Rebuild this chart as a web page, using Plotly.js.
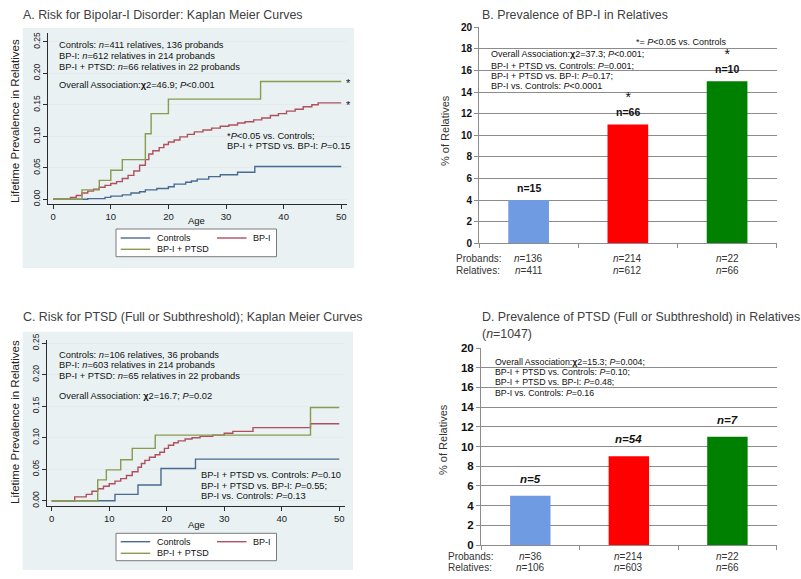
<!DOCTYPE html>
<html><head><meta charset="utf-8">
<script src="https://cdn.plot.ly/plotly-3.0.1.min.js"></script>
<style>body{margin:0;padding:0;background:#fff}#chart{width:801px;height:579px}</style>
</head><body><div id="chart"></div>
<script>
// ---------- Panel A: Kaplan-Meier, risk for BP-I ----------
const A_ctrlAge = [0, 6, 9, 10, 12, 13.5, 15, 16, 18, 20, 21, 23, 24, 25, 27, 29, 32, 35, 50];
const A_ctrlVal = [0, 0.001, 0.003, 0.005, 0.007, 0.010, 0.012, 0.015, 0.017, 0.020, 0.024, 0.027, 0.029, 0.032, 0.036, 0.039, 0.043, 0.052, 0.052];
const A_bpAge = [0, 3, 4, 5, 6, 7, 8, 9, 10, 11, 12, 13, 14, 15, 16, 16.6, 17.3, 18.4, 19.2, 20, 21, 22, 23.3, 24.5, 26, 27.5, 29, 30.5, 32, 33.3, 34.8, 36.2, 37.7, 39.1, 40.5, 42, 43.4, 44.9, 46, 50];
const A_bpVal = [0, 0.003, 0.006, 0.010, 0.013, 0.016, 0.019, 0.022, 0.025, 0.028, 0.033, 0.038, 0.045, 0.054, 0.063, 0.072, 0.077, 0.082, 0.087, 0.091, 0.094, 0.099, 0.103, 0.107, 0.110, 0.113, 0.116, 0.118, 0.121, 0.123, 0.126, 0.129, 0.133, 0.136, 0.140, 0.143, 0.147, 0.150, 0.153, 0.153];
const A_ptAge = [0, 5, 8, 10, 12, 16, 17, 20, 36, 50];
const A_ptVal = [0, 0.015, 0.030, 0.046, 0.063, 0.104, 0.136, 0.159, 0.187, 0.187];

// ---------- Panel C: Kaplan-Meier, risk for PTSD ----------
const C_ctrlAge = [0, 11, 15, 19, 25, 50];
const C_ctrlVal = [0, 0.010, 0.025, 0.051, 0.066, 0.066];
const C_bpAge = [0, 4, 6, 7, 8, 9, 10, 11, 12, 13, 14, 15, 15.6, 16.2, 17, 18, 18.8, 19.6, 20.3, 21.2, 22, 23.2, 24.4, 25.8, 28, 30, 31.5, 35, 45, 50];
const C_bpVal = [0, 0.006, 0.010, 0.015, 0.019, 0.023, 0.027, 0.031, 0.035, 0.040, 0.046, 0.053, 0.059, 0.064, 0.069, 0.073, 0.077, 0.083, 0.088, 0.092, 0.095, 0.098, 0.100, 0.102, 0.104, 0.107, 0.110, 0.116, 0.122, 0.122];
const C_ptAge = [0, 8, 9.5, 12, 14, 18, 45, 50];
const C_ptVal = [0, 0.033, 0.049, 0.065, 0.083, 0.104, 0.148, 0.148];

const kmAgeTicks = [0, 10, 20, 30, 40, 50];
const kmValTicks = [0, 0.05, 0.10, 0.15, 0.20, 0.25];
const kmNames = ["Controls", "BP-I", "BP-I + PTSD"];

// ---------- Panels B and D: bar charts ----------
const groups = ["Controls", "BP-I", "BP-I + PTSD"];
const B_pct = [4, 11, 15];
const B_cases = ["15", "66", "10"];
const B_star = ["", "*", "*"];
const B_probands = ["136", "214", "22"];
const B_relatives = ["411", "612", "66"];
const D_pct = [5, 9, 11];
const D_cases = ["5", "54", "7"];
const D_probands = ["36", "214", "22"];
const D_relatives = ["106", "603", "66"];
const barTicks = [0, 2, 4, 6, 8, 10, 12, 14, 16, 18, 20];

// ---------- Text ----------
const A_info = ["Controls: <i>n</i>=411 relatives, 136 probands", "BP-I: <i>n</i>=612 relatives in 214 probands", "BP-I + PTSD: <i>n</i>=66 relatives in 22 probands"];
const A_overall = "Overall Association:<b>χ</b>2=46.9; <i>P</i>&lt;0.001";
const A_notes = ["*<i>P</i>&lt;0.05 vs. Controls;", "BP-I + PTSD vs. BP-I: <i>P</i>=0.15"];
const C_info = ["Controls: <i>n</i>=106 relatives, 36 probands", "BP-I: <i>n</i>=603 relatives in 214 probands", "BP-I + PTSD: <i>n</i>=65 relatives in 22 probands"];
const C_overall = "Overall Association: <b>χ</b>2=16.7; <i>P</i>=0.02";
const C_notes = ["BP-I + PTSD vs. Controls: <i>P</i>=0.10", "BP-I + PTSD vs. BP-I: <i>P</i>=0.55;", "BP-I vs. Controls: <i>P</i>=0.13"];
const B_stats = ["Overall Association:<b>χ</b>2=37.3; <i>P</i>&lt;0.001;", "BP-I + PTSD vs. Controls: <i>P</i>=0.001;", "BP-I + PTSD vs. BP-I: <i>P</i>=0.17;", "BP-I vs. Controls: <i>P</i>&lt;0.0001"];
const B_note = "*= <i>P</i>&lt;0.05 vs. Controls";
const D_stats = ["Overall Association:<b>χ</b>2=15.3; <i>P</i>=0.004;", "BP-I + PTSD vs. Controls: <i>P</i>=0.10;", "BP-I + PTSD vs. BP-I: <i>P</i>=0.48;", "BP-I vs. Controls: <i>P</i>=0.16"];

const W = 801, H = 579;
const px = v => v / W, py = v => 1 - v / H;
const FF = "Liberation Sans, Arial, sans-serif";
const kmColors = ["#4b6a92", "#b0505e", "#8a9a4e"];
const barColors = ["#6f9be2", "#ff0000", "#008000"];

const traces = [];
function km(ages, vals, i, xa, ya) {
  traces.push({type: "scatter", mode: "lines", x: ages, y: vals, xaxis: xa, yaxis: ya, name: kmNames[i],
    line: {shape: "hv", color: kmColors[i], width: 1.4}, showlegend: false, hoverinfo: "skip"});
}
km(A_ctrlAge, A_ctrlVal, 0, "x", "y");
km(A_bpAge, A_bpVal, 1, "x", "y");
km(A_ptAge, A_ptVal, 2, "x", "y");
km(C_ctrlAge, C_ctrlVal, 0, "x3", "y3");
km(C_bpAge, C_bpVal, 1, "x3", "y3");
km(C_ptAge, C_ptVal, 2, "x3", "y3");
traces.push({type: "bar", x: groups, y: B_pct, xaxis: "x2", yaxis: "y2", marker: {color: barColors}, showlegend: false, hoverinfo: "skip"});
traces.push({type: "bar", x: groups, y: D_pct, xaxis: "x4", yaxis: "y4", marker: {color: barColors}, showlegend: false, hoverinfo: "skip"});

const ann = [];
function T(text, x, y, size, o) {
  o = o || {};
  ann.push(Object.assign({text: text, x: px(x), y: py(y), xref: "paper", yref: "paper", xanchor: "left", yanchor: "middle",
    showarrow: false, font: {family: FF, size: size, color: o.color || "#111"}}, o.extra || {}));
}
// titles
T("A. Risk for Bipolar-I Disorder: Kaplan Meier Curves", 21, 15, 12.4, {color: "#404040"});
T("C. Risk for PTSD (Full or Subthreshold); Kaplan Meier Curves", 21, 317, 12.4, {color: "#404040"});
T("B. Prevalence of BP-I in Relatives", 480, 15, 12.4, {color: "#404040"});
T("D. Prevalence of PTSD (Full or Subthreshold) in Relatives", 480, 317, 12.4, {color: "#404040"});
T("(<i>n</i>=1047)", 480, 333.5, 12.4, {color: "#404040"});
// y titles
T("Lifetime Prevalence in Relatives", 15, 121, 11.5, {color: "#222", extra: {textangle: -90, xanchor: "center"}});
T("Lifetime Prevalence in Relatives", 15, 422, 11.5, {color: "#222", extra: {textangle: -90, xanchor: "center"}});
T("% of Relatives", 445, 131, 11, {color: "#333", extra: {textangle: -90, xanchor: "center"}});
T("% of Relatives", 443, 440, 11, {color: "#333", extra: {textangle: -90, xanchor: "center"}});
T("Age", 196, 221, 9.5, {extra: {xanchor: "center"}});
T("Age", 196, 524.5, 9.5, {extra: {xanchor: "center"}});
// KM texts
[45, 55.5, 66.5].forEach((y, i) => T(A_info[i], 57, y, 9.3));
T(A_overall, 57, 85, 9.3);
T(A_notes[0], 225, 135.7, 9.3);
T(A_notes[1], 225, 146.3, 9.3);
[355, 365.3, 375.7].forEach((y, i) => T(C_info[i], 57, y, 9.3));
T(C_overall, 57, 396, 9.3);
[475, 485.5, 496].forEach((y, i) => T(C_notes[i], 199, y, 9.3));
// bar texts
[54.3, 65.5, 76, 86.3].forEach((y, i) => T(B_stats[i], 489, y, 9));
T(B_note, 634, 41.7, 9);
[361.7, 371.8, 382.3, 392.7].forEach((y, i) => T(D_stats[i], 493, y, 8.8));
T("Probands:", 454, 258.3, 10, {color: "#333"});
T("Relatives:", 454, 270, 10, {color: "#333"});
T("Probands:", 446, 556, 10, {color: "#333"});
T("Relatives:", 446, 567.7, 10, {color: "#333"});
groups.forEach((g, i) => {
  ann.push({text: "<i>n</i>=" + B_probands[i], x: g, xref: "x2", y: py(258.3), yref: "paper", showarrow: false, yanchor: "middle", font: {family: FF, size: 10, color: "#333"}});
  ann.push({text: "<i>n</i>=" + B_relatives[i], x: g, xref: "x2", y: py(270), yref: "paper", showarrow: false, yanchor: "middle", font: {family: FF, size: 10, color: "#333"}});
  ann.push({text: "<i>n</i>=" + D_probands[i], x: g, xref: "x4", y: py(556), yref: "paper", showarrow: false, yanchor: "middle", font: {family: FF, size: 10, color: "#333"}});
  ann.push({text: "<i>n</i>=" + D_relatives[i], x: g, xref: "x4", y: py(567.7), yref: "paper", showarrow: false, yanchor: "middle", font: {family: FF, size: 10, color: "#333"}});
  const lbl = (B_star[i] ? '<span style="font-size:14px">' + B_star[i] + "</span><br>" : "") + "<b>n=" + B_cases[i] + "</b>";
  ann.push({text: lbl, x: g, xref: "x2", y: B_pct[i], yref: "y2", yanchor: "bottom", yshift: 4, showarrow: false, font: {family: FF, size: 10.5, color: "#111"}});
  ann.push({text: "<b><i>n=" + D_cases[i] + "</i></b>", x: g, xref: "x4", y: D_pct[i], yref: "y4", yanchor: "bottom", yshift: 9, showarrow: false, font: {family: FF, size: 11.5, color: "#111"}});
});
// stars at curve ends (panel A)
ann.push({text: "*", x: A_ptAge[A_ptAge.length - 1], y: A_ptVal[A_ptVal.length - 1], xref: "x", yref: "y", xanchor: "left", yanchor: "middle", xshift: 3, yshift: -2, showarrow: false, font: {family: FF, size: 11, color: "#111"}});
ann.push({text: "*", x: A_bpAge[A_bpAge.length - 1], y: A_bpVal[A_bpVal.length - 1], xref: "x", yref: "y", xanchor: "left", yanchor: "middle", xshift: 3, yshift: -2, showarrow: false, font: {family: FF, size: 11, color: "#111"}});

// Stata graph regions and manual legends
const shapes = [
  {type: "rect", xref: "paper", yref: "paper", x0: px(22.7), x1: px(354), y0: py(268), y1: py(28), fillcolor: "#e9f1f3", line: {width: 0}, layer: "below"},
  {type: "rect", xref: "paper", yref: "paper", x0: px(22.7), x1: px(353), y0: py(570), y1: py(331.7), fillcolor: "#e9f1f3", line: {width: 0}, layer: "below"}
];
function legend(top, bottom, r1, r2) {
  shapes.push({type: "rect", xref: "paper", yref: "paper", x0: px(116), x1: px(276.5), y0: py(bottom), y1: py(top), fillcolor: "#ffffff", line: {color: "#7a7a7a", width: 1}});
  const rows = [[120.7, r1, 0], [217, r1, 1], [120.7, r2, 2]];
  rows.forEach(([x, y, i]) => {
    shapes.push({type: "line", xref: "paper", yref: "paper", x0: px(x), x1: px(x + 29.5), y0: py(y), y1: py(y), line: {color: kmColors[i], width: 1.4}});
    T(kmNames[i], x + 34, y, 9);
  });
}
legend(229, 256.7, 238, 249.3);
legend(533.3, 560.7, 541.7, 553.3);

const kmX = (dom, rng) => ({domain: dom, range: rng, showline: true, linecolor: "#2b2b2b", linewidth: 1, ticks: "outside", ticklen: 4, tickcolor: "#2b2b2b",
  tickvals: kmAgeTicks, tickfont: {family: FF, size: 9.5, color: "#222"}, showgrid: false, zeroline: false});
const kmY = (dom, rng) => ({domain: dom, range: rng, showline: true, linecolor: "#2b2b2b", linewidth: 1, ticks: "outside", ticklen: 4, tickcolor: "#2b2b2b",
  tickvals: kmValTicks, tickformat: ".2f", tickangle: -90, tickfont: {family: FF, size: 8.5, color: "#222"}, showgrid: true, gridcolor: "#e4ebee", gridwidth: 1, zeroline: false});
const barX = (dom) => ({domain: dom, type: "category", showline: true, linecolor: "#8c8c8c", linewidth: 1, ticks: "outside", ticklen: 4, tickcolor: "#8c8c8c",
  tickson: "boundaries", showticklabels: false, showgrid: false, zeroline: false});
const barY = (dom, size) => ({domain: dom, range: [0, 20], tickvals: barTicks, showline: true, linecolor: "#8c8c8c", linewidth: 1, ticks: "outside", ticklen: 4, tickcolor: "#8c8c8c",
  tickfont: {family: FF, size: size, color: "#111", weight: "bold"}, showgrid: true, gridcolor: "#8c8c8c", gridwidth: 1, zeroline: false});

const layout = {
  width: W, height: H, margin: {l: 0, r: 0, t: 0, b: 0}, paper_bgcolor: "#ffffff", plot_bgcolor: "#ffffff",
  showlegend: false, bargap: 0.59, font: {family: FF},
  xaxis: Object.assign(kmX([px(48), px(347)], [-0.9, 51]), {anchor: "y"}),
  yaxis: Object.assign(kmY([py(204), py(33)], [-0.0075, 0.264]), {anchor: "x"}),
  xaxis3: Object.assign(kmX([px(47), px(345)], [-0.82, 51.0]), {anchor: "y3"}),
  yaxis3: Object.assign(kmY([py(506), py(340)], [-0.0084, 0.255]), {anchor: "x3"}),
  xaxis2: Object.assign(barX([px(479), px(776.7)]), {anchor: "y2"}),
  yaxis2: Object.assign(barY([py(243.3), py(27.3)], 10), {anchor: "x2"}),
  xaxis4: Object.assign(barX([px(481), px(776.7)]), {anchor: "y4"}),
  yaxis4: Object.assign(barY([py(545), py(348)], 11.5), {anchor: "x4"}),
  annotations: ann, shapes: shapes
};
Plotly.newPlot("chart", traces, layout, {staticPlot: true, displayModeBar: false});
</script></body></html>
